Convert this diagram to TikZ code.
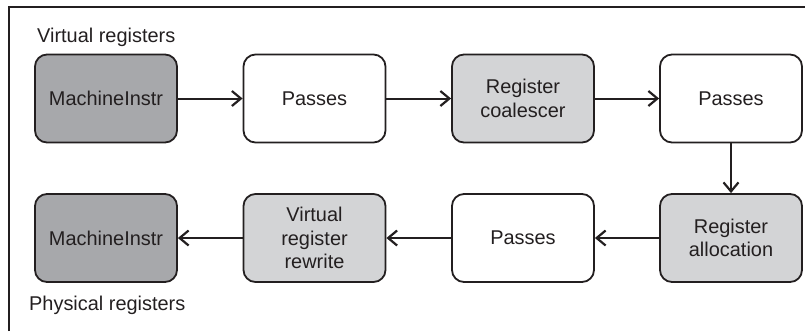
\documentclass[tikz,border=0pt]{standalone}
\usepackage{fontspec}
\setmainfont{Liberation Sans}
\usetikzlibrary{arrows.meta}
\definecolor{dk}{HTML}{A7A8AB}
\definecolor{lt}{HTML}{D3D4D6}
\definecolor{ink}{HTML}{231F20}
\begin{document}
\begin{tikzpicture}[x=1bp,y=-1bp,
  box/.style={draw=ink, line width=1.8bp, rounded corners=12bp, minimum width=142bp, minimum height=88bp, align=center, font=\fontsize{20}{23.5}\selectfont, text=ink, inner sep=0pt},
  dark/.style={box, fill=dk},
  light/.style={box, fill=lt},
  plain/.style={box, fill=white},
  lbl/.style={anchor=base west, inner sep=0pt, text=ink, font=\fontsize{20}{23.5}\selectfont},
  flow/.style={draw=ink, line width=2bp, -{Straight Barb[length=9bp,width=15bp,line width=2.2bp]}}]
\useasboundingbox (0,0) rectangle (805,331);
\draw[ink, line width=1.8bp] (9,331) -- (9,7) -- (805,7);
\node[dark]  (m1) at (106,98.5) {MachineInstr};
\node[plain] (p1) at (314.5,98.5) {Passes};
\node[light] (rc) at (523,98.5) {Register\\coalescer};
\node[plain] (p2) at (731,98.5) {Passes};
\node[light] (ra) at (731,238) {Register\\allocation};
\node[plain] (p3) at (523,238) {Passes};
\node[light] (vr) at (314.5,238) {Virtual\\register\\rewrite};
\node[dark]  (m2) at (106,238) {MachineInstr};
\node[lbl] (vl) at (37,42) {Virtual registers};
\node[lbl] (pl) at (29,310) {Physical registers};
\draw[flow] (m1) -- (p1);
\draw[flow] (p1) -- (rc);
\draw[flow] (rc) -- (p2);
\draw[flow] (p2) -- (ra);
\draw[flow] (ra) -- (p3);
\draw[flow] (p3) -- (vr);
\draw[flow] (vr) -- (m2);
\end{tikzpicture}
\end{document}
